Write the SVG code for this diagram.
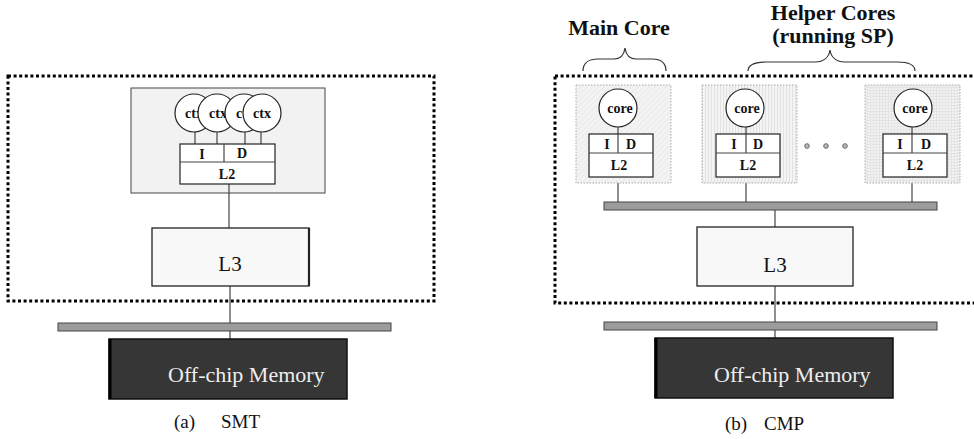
<svg xmlns="http://www.w3.org/2000/svg" width="974" height="439" viewBox="0 0 974 439">
<defs>
<style>
.dot{fill:none;stroke:#000;stroke-width:3;stroke-dasharray:3 2.6}
.ln{stroke:#444;stroke-width:1.2;fill:none}
.gbox{fill:#f2f2f2;stroke:#444;stroke-width:1}
.cache{fill:#fff;stroke:#222;stroke-width:1.2}
.ctx{fill:#fff;stroke:#222;stroke-width:1.2}
.bt{font-family:"Liberation Serif",serif;font-weight:bold;font-size:14px;fill:#111;text-anchor:middle}
.l3{fill:#f8f8f8;stroke:#222;stroke-width:1.3}
.l3t{font-family:"Liberation Serif",serif;font-size:21px;fill:#111;text-anchor:middle}
.bus{fill:#9c9c9c;stroke:#444;stroke-width:1}
.mem{fill:#363636;stroke:#111;stroke-width:1.5}
.memt{font-family:"Liberation Serif",serif;font-size:22px;fill:#eee}
.cap{font-family:"Liberation Serif",serif;font-size:19px;fill:#111}
.head{font-family:"Liberation Serif",serif;font-weight:bold;font-size:22px;fill:#111;text-anchor:middle}
.brace{fill:none;stroke:#333;stroke-width:1.2}
.core{stroke:#aaa;stroke-width:1;stroke-dasharray:1.5 1.5}
</style>
<pattern id="diag" width="4" height="4" patternUnits="userSpaceOnUse" patternTransform="rotate(45)">
<rect width="4" height="4" fill="#f3f3f3"/><line x1="0" y1="0" x2="0" y2="4" stroke="#e2e2e2" stroke-width="1"/>
</pattern>
<pattern id="vert" width="3" height="3" patternUnits="userSpaceOnUse">
<rect width="3" height="3" fill="#f4f4f4"/><line x1="0.5" y1="0" x2="0.5" y2="3" stroke="#e2e2e2" stroke-width="1"/>
</pattern>
<pattern id="grid" width="3" height="3" patternUnits="userSpaceOnUse">
<rect width="3" height="3" fill="#f2f2f2"/><path d="M0.5,0V3M0,0.5H3" stroke="#e4e4e4" stroke-width="1"/>
</pattern>
</defs>
<rect width="974" height="439" fill="#fff"/>

<!-- ===== (a) SMT ===== -->
<g id="smt-chip"><rect class="dot" x="8" y="76" width="426" height="225"/></g>
<g id="smt-core">
<rect class="gbox" x="131" y="88" width="194" height="105"/>
</g>
<g id="smt-connectors">
<line class="ln" x1="195" y1="131" x2="195" y2="144"/>
<line class="ln" x1="217" y1="131" x2="217" y2="144"/>
<line class="ln" x1="245" y1="131" x2="245" y2="144"/>
<line class="ln" x1="261" y1="131" x2="261" y2="144"/>
<line class="ln" x1="229" y1="184" x2="229" y2="228"/>
<line class="ln" x1="230" y1="286" x2="230" y2="323"/>
<line class="ln" x1="230" y1="331" x2="230" y2="339"/>
</g>
<g id="smt-ctx1"><circle class="ctx" cx="194" cy="113" r="19"/><text class="bt" x="194" y="118">ctx</text></g>
<g id="smt-ctx2"><circle class="ctx" cx="217" cy="113" r="19"/><text class="bt" x="218" y="118">ctx</text></g>
<g id="smt-ctx3"><circle class="ctx" cx="244" cy="113" r="19"/><text class="bt" x="245" y="118">ctx</text></g>
<g id="smt-ctx4"><circle class="ctx" cx="262" cy="113" r="19"/><text class="bt" x="262" y="118">ctx</text></g>
<g id="smt-cache">
<rect class="cache" x="180" y="144" width="95" height="40"/>
<line class="ln" x1="180" y1="162" x2="275" y2="162"/>
<line class="ln" x1="224" y1="144" x2="224" y2="162"/>
<text class="bt" x="202" y="159">I</text>
<text class="bt" x="242" y="158">D</text>
<text class="bt" x="227" y="179">L2</text>
</g>
<g id="smt-l3">
<rect class="l3" x="152" y="228" width="157" height="58"/>
<line x1="309" y1="228" x2="309" y2="286" stroke="#222" stroke-width="2.2"/>
<text class="l3t" x="230" y="271">L3</text>
</g>
<g id="smt-bus"><rect class="bus" x="58" y="323" width="333" height="8"/></g>
<g id="smt-mem">
<rect class="mem" x="109" y="339" width="238" height="60"/>
<line x1="110" y1="339" x2="110" y2="399" stroke="#000" stroke-width="3"/>
<text class="memt" x="168" y="382">Off-chip Memory</text>
</g>
<text class="cap" x="174" y="428">(a)<tspan x="221">SMT</tspan></text>

<!-- ===== (b) CMP ===== -->
<g id="cmp-chip"><rect class="dot" x="555" y="76" width="430" height="227"/></g>
<g id="labels">
<text class="head" x="619" y="35">Main Core</text>
<text class="head" x="833" y="20">Helper Cores</text>
<text class="head" x="833" y="43">(running SP)</text>
<path class="brace" d="M583,71 C583,63 589,59 598,59 L614,59 C621,59 624,55 625,48 C626,55 629,59 636,59 L652,59 C661,59 666,63 666,71"/>
<path class="brace" d="M748,71 C748,65 755,62 766,62 L815,62 C824,62 829,57 830,50 C831,57 836,62 845,62 L897,62 C908,62 915,65 915,71"/>
</g>
<g id="cmp-connectors">
<line class="ln" x1="618" y1="177" x2="618" y2="202"/>
<line class="ln" x1="746" y1="177" x2="746" y2="202"/>
<line class="ln" x1="912" y1="177" x2="912" y2="202"/>
<line class="ln" x1="775" y1="210" x2="775" y2="227"/>
<line class="ln" x1="775" y1="286" x2="775" y2="322"/>
<line class="ln" x1="775" y1="330" x2="775" y2="338"/>
</g>
<g id="main-core">
<rect class="core" x="576" y="85" width="95" height="98" fill="url(#diag)"/>
<line class="ln" x1="618" y1="127" x2="618" y2="134"/>
<circle class="ctx" cx="618" cy="108" r="19"/><text class="bt" x="620" y="113">core</text>
<rect class="cache" x="589" y="134" width="64" height="43"/>
<line class="ln" x1="589" y1="153" x2="653" y2="153"/>
<line class="ln" x1="618" y1="134" x2="618" y2="153"/>
<text class="bt" x="607" y="149">I</text><text class="bt" x="631" y="149">D</text>
<text class="bt" x="619" y="170">L2</text>
</g>
<g id="helper-core-1">
<rect class="core" x="702" y="85" width="95" height="98" fill="url(#vert)"/>
<line class="ln" x1="746" y1="127" x2="746" y2="134"/>
<circle class="ctx" cx="745" cy="108" r="19"/><text class="bt" x="747" y="113">core</text>
<rect class="cache" x="716" y="134" width="64" height="43"/>
<line class="ln" x1="716" y1="153" x2="780" y2="153"/>
<line class="ln" x1="746" y1="134" x2="746" y2="153"/>
<text class="bt" x="734" y="149">I</text><text class="bt" x="758" y="149">D</text>
<text class="bt" x="748" y="170">L2</text>
</g>
<g id="ellipsis">
<circle cx="807" cy="146" r="2.3" fill="#bbb" stroke="#666" stroke-width="1"/>
<circle cx="826" cy="146" r="2.3" fill="#bbb" stroke="#666" stroke-width="1"/>
<circle cx="845" cy="146" r="2.3" fill="#bbb" stroke="#666" stroke-width="1"/>
</g>
<g id="helper-core-n">
<rect class="core" x="865" y="85" width="95" height="98" fill="url(#grid)"/>
<line class="ln" x1="912" y1="127" x2="912" y2="134"/>
<circle class="ctx" cx="913" cy="108" r="19"/><text class="bt" x="915" y="113">core</text>
<rect class="cache" x="883" y="134" width="64" height="43"/>
<line class="ln" x1="883" y1="153" x2="947" y2="153"/>
<line class="ln" x1="912" y1="134" x2="912" y2="153"/>
<text class="bt" x="900" y="149">I</text><text class="bt" x="926" y="149">D</text>
<text class="bt" x="915" y="170">L2</text>
</g>
<g id="cmp-bus1"><rect class="bus" x="604" y="202" width="333" height="8"/></g>
<g id="cmp-l3">
<rect class="l3" x="697" y="227" width="156" height="59"/>
<text class="l3t" x="775" y="272">L3</text>
</g>
<g id="cmp-bus2"><rect class="bus" x="604" y="322" width="333" height="8"/></g>
<g id="cmp-mem">
<rect class="mem" x="655" y="338" width="238" height="60"/>
<line x1="656" y1="338" x2="656" y2="398" stroke="#000" stroke-width="3"/>
<text class="memt" x="714" y="382">Off-chip Memory</text>
</g>
<text class="cap" x="725" y="430">(b)<tspan x="764">CMP</tspan></text>
</svg>
